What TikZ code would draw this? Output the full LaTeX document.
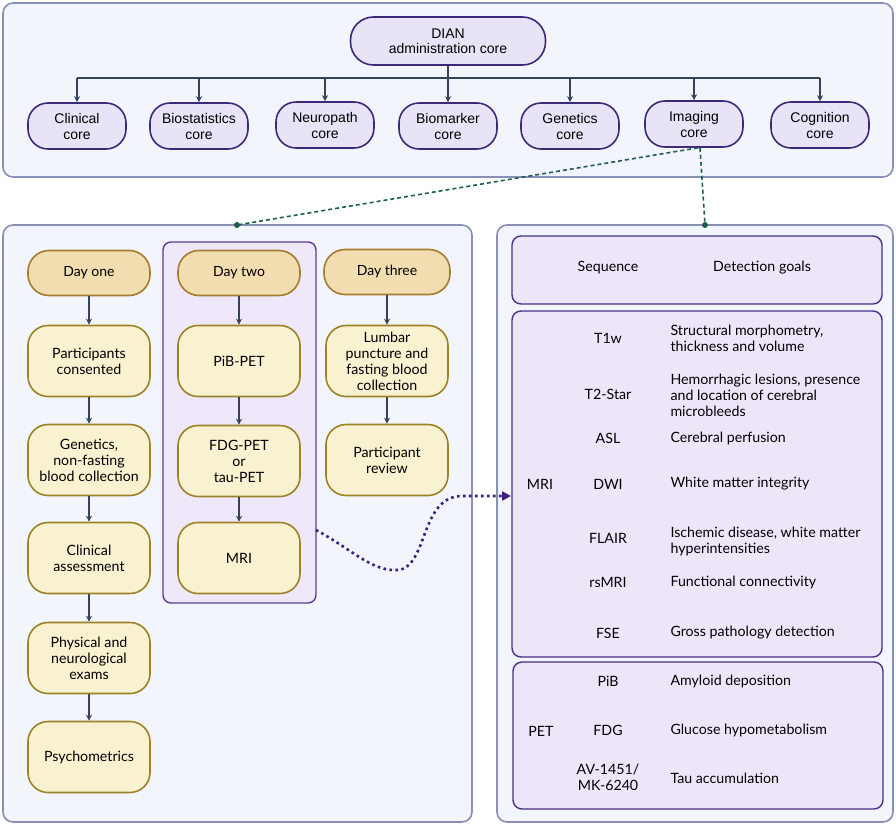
\documentclass[tikz,border=0pt]{standalone}
\usepackage{fontspec}
\setmainfont{Lato}
\newfontfamily\topfont{Liberation Sans}
\usetikzlibrary{arrows.meta,positioning}
\definecolor{panelfill}{HTML}{F2F5FB}
\definecolor{paneldraw}{HTML}{8890B8}
\definecolor{lavfill}{HTML}{E8E3F7}
\definecolor{lavdraw}{HTML}{3C2A78}
\definecolor{dayfill}{HTML}{F2DDB0}
\definecolor{daydraw}{HTML}{A57C2E}
\definecolor{stepfill}{HTML}{F8F2D0}
\definecolor{stepdraw}{HTML}{9C8226}
\definecolor{d2fill}{HTML}{EFE7FA}
\definecolor{d2draw}{HTML}{5B3E93}
\definecolor{arrcol}{HTML}{34425E}
\definecolor{greencol}{HTML}{1F5D4E}
\definecolor{purpcol}{HTML}{3A2080}
\definecolor{tabfill}{HTML}{EDE6F9}
\definecolor{tabdraw}{HTML}{4A2F86}
\tikzset{
  panel/.style={draw=paneldraw,fill=panelfill,line width=1.6pt,rounded corners=10pt},
  corebox/.style={draw=lavdraw,fill=lavfill,line width=1.6pt,rounded corners=20pt,
    minimum width=98pt,minimum height=46pt,align=center,font=\topfont\fontsize{14}{16}\selectfont,inner sep=2pt},
  daybox/.style={draw=daydraw,fill=dayfill,line width=1.6pt,rounded corners=21pt,
    minimum width=122pt,minimum height=45pt,align=center,font=\fontsize{14}{16}\selectfont},
  stepbox/.style={draw=stepdraw,fill=stepfill,line width=1.6pt,rounded corners=20pt,
    minimum width=122pt,minimum height=71pt,align=center,font=\fontsize{14.2}{16}\selectfont,inner sep=2pt},
  tabbox/.style={draw=tabdraw,fill=tabfill,line width=1.4pt,rounded corners=9pt},
  arr/.style={draw=arrcol,line width=1.4pt,-{Stealth[length=6pt,width=6pt]}},
  gline/.style={draw=greencol,line width=1.6pt,dash pattern=on 4pt off 3pt},
  gdot/.style={circle,fill=greencol,inner sep=0pt,minimum size=6pt},
  ttxt/.style={font=\fontsize{14.2}{16}\selectfont,align=center},
  gtxt/.style={font=\fontsize{14.2}{16}\selectfont,align=left,anchor=west},
}
\begin{document}
\begin{tikzpicture}[x=1pt,y=-1pt]
\useasboundingbox (0,0) rectangle (896,825);
% panels
\draw[panel] (3,3) rectangle (893,177);
\draw[panel] (3,225) rectangle (472,822);
\draw[panel] (497,225) rectangle (893,822);
\coordinate (lptop) at (237,225);
\coordinate (rptop) at (705,225);
% day two panel
\draw[draw=d2draw,fill=d2fill,line width=1.4pt,rounded corners=8pt] (163,242) rectangle (316,603);
\coordinate (d2east) at (316,530);
% top tree
\node[corebox,minimum width=195pt,minimum height=48pt,rounded corners=23pt,font=\topfont\fontsize{14}{14.5}\selectfont] (dian) at (448,41) {DIAN\\administration core};
\node[corebox] (c1) at (77,126) {Clinical\\core};
\node[corebox] (c2) at (199,126) {Biostatistics\\core};
\node[corebox] (c3) at (325,125) {Neuropath\\core};
\node[corebox] (c4) at (448,126) {Biomarker\\core};
\node[corebox] (c5) at (570,126) {Genetics\\core};
\node[corebox] (c6) at (694,124) {Imaging\\core};
\node[corebox] (c7) at (820,125) {Cognition\\core};
\coordinate (bus) at (0,78);
\draw[draw=arrcol,line width=1.8pt] (c1.north |- bus) -- (c7.north |- bus);
\draw[arr,line width=1.8pt] (dian.south) -- (c4.north);
\foreach \c in {c1,c2,c3,c5,c6,c7} {\draw[arr] (\c.north |- bus) -- (\c.north);}
% green dashed links
\draw[gline] ([xshift=4pt]c6.south) -- (lptop);
\draw[gline] ([xshift=6pt]c6.south) -- (rptop);
\node[gdot] at (lptop) {};
\node[gdot] at (rptop) {};
% day columns
\node[daybox] (d1) at (89,273) {Day one};
\node[daybox] (d2) at (239,273) {Day two};
\node[daybox,minimum width=126pt] (d3) at (387,272) {Day three};
\node[stepbox] (a1) at (89,361) {Participants\\consented};
\node[stepbox] (a2) at (89,460) {Genetics,\\non-fasting\\blood collection};
\node[stepbox] (a3) at (89,558) {Clinical\\assessment};
\node[stepbox] (a4) at (89,658) {Physical and\\neurological\\exams};
\node[stepbox] (a5) at (89,757) {Psychometrics};
\node[stepbox] (b1) at (239,361) {PiB-PET};
\node[stepbox] (b2) at (239,461) {FDG-PET\\or\\tau-PET};
\node[stepbox] (b3) at (239,558) {MRI};
\node[stepbox] (e1) at (387,361) {Lumbar\\puncture and\\fasting blood\\collection};
\node[stepbox] (e2) at (387,460) {Participant\\review};
\draw[arr] (d1) -- (a1); \draw[arr] (a1) -- (a2); \draw[arr] (a2) -- (a3);
\draw[arr] (a3) -- (a4); \draw[arr] (a4) -- (a5);
\draw[arr] (d2) -- (b1); \draw[arr] (b1) -- (b2); \draw[arr] (b2) -- (b3);
\draw[arr] (d3) -- (e1); \draw[arr] (e1) -- (e2);
% right table
\draw[tabbox] (512,236) rectangle (882,304);
\draw[tabbox] (512,311) rectangle (882,657);
\draw[tabbox] (513,662) rectangle (883,809);
\coordinate (mriwest) at (511,496);
\node[ttxt] (hseq) at (608,268) {Sequence};
\node[ttxt] (hgoal) at (762,268) {Detection goals};
\node[ttxt] (lmri) at (540,484) {MRI};
\node[ttxt] (lpet) at (541,731) {PET};
\node[ttxt] (s1) at (608,338) {T1w};
\node[gtxt] (g1) at (667,338) {Structural morphometry,\\thickness and volume};
\node[ttxt] (s2) at (608,394) {T2-Star};
\node[gtxt] (g2) at (667,395) {Hemorrhagic lesions, presence\\and location of cerebral\\microbleeds};
\node[ttxt] (s3) at (608,438) {ASL};
\node[gtxt] (g3) at (667,438) {Cerebral perfusion};
\node[ttxt] (s4) at (608,484) {DWI};
\node[gtxt] (g4) at (667,484) {White matter integrity};
\node[ttxt] (s5) at (608,538) {FLAIR};
\node[gtxt] (g5) at (667,541) {Ischemic disease, white matter\\hyperintensities};
\node[ttxt] (s6) at (608,582) {rsMRI};
\node[gtxt] (g6) at (667,582) {Functional connectivity};
\node[ttxt] (s7) at (608,633) {FSE};
\node[gtxt] (g7) at (667,633) {Gross pathology detection};
\node[ttxt] (s8) at (608,681) {PiB};
\node[gtxt] (g8) at (667,681) {Amyloid deposition};
\node[ttxt] (s9) at (608,730) {FDG};
\node[gtxt] (g9) at (667,730) {Glucose hypometabolism};
\node[ttxt] (s10) at (608,777) {AV-1451/\\MK-6240};
\node[gtxt] (g10) at (667,778) {Tau accumulation};
% purple dotted curve
\draw[draw=purpcol,line width=2.6pt,dash pattern=on 2.6pt off 3.4pt,-{Triangle[length=9pt,width=9pt]}]
  (d2east) .. controls (350,548) and (372,572) .. (398,570)
  .. controls (428,567) and (420,496) .. (462,496) -- (mriwest);
\end{tikzpicture}
\end{document}
